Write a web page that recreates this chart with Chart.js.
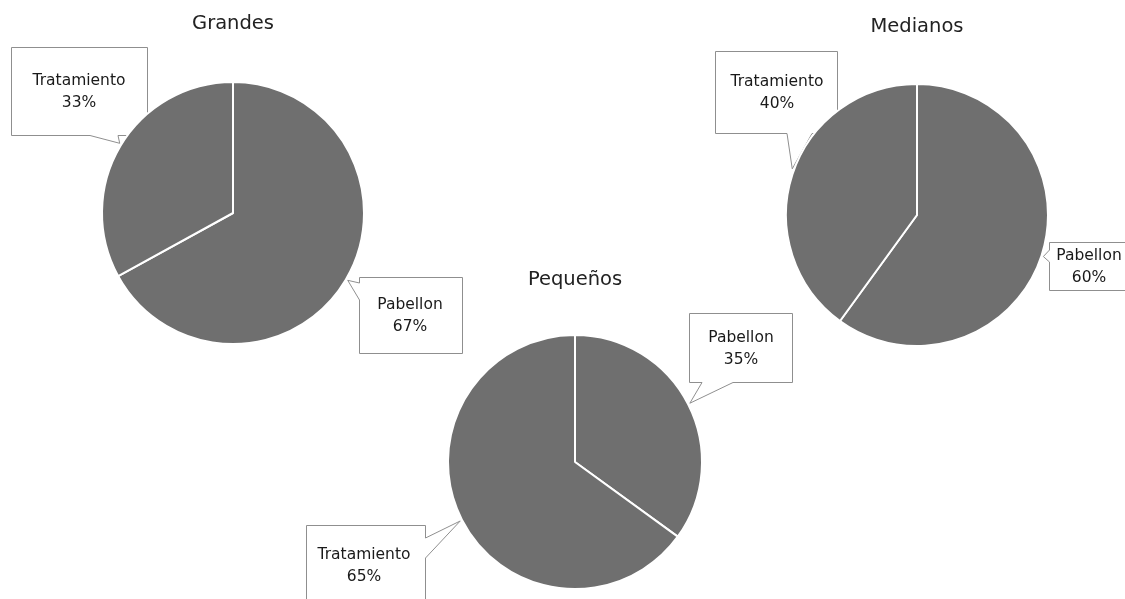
<!DOCTYPE html>
<html>
<head>
<meta charset="utf-8">
<script src="https://cdn.jsdelivr.net/npm/chart.js@4.4.1/dist/chart.umd.min.js"></script>
<style>
  html, body { margin: 0; padding: 0; background: #ffffff; }
  #stage { position: relative; width: 1125px; height: 599px; overflow: hidden; }
  #stage canvas { position: absolute; left: 0; top: 0; }
</style>
</head>
<body>
<div id="stage">
  <canvas id="grandes" width="1125" height="599"></canvas>
  <canvas id="medianos" width="1125" height="599"></canvas>
  <canvas id="pequenos" width="1125" height="599"></canvas>
</div>
<script>
// Categories shared by the three pies
const categories = ['Pabellon', 'Tratamiento'];

// Share of each category (%) per company size
const grandesValues  = [67, 33];
const medianosValues = [60, 40];
const pequenosValues = [35, 65];

// Chart titles
const titles = ['Grandes', 'Medianos', 'Pequeños'];

const FONT = '"DejaVu Sans", "Open Sans", sans-serif';
const SLICE = '#6f6f6f';

// Title above each pie and a callout box (drawn beneath the slices) for every slice
const calloutPlugin = {
  id: 'callouts',
  beforeDatasetsDraw(chart, args, opts) {
    const ctx = chart.ctx;
    const meta = chart.getDatasetMeta(0);
    const arc0 = meta.data[0];
    const cx = arc0.x, cy = arc0.y, r = arc0.outerRadius;

    ctx.save();
    ctx.fillStyle = '#222222';
    ctx.font = '19.5px ' + FONT;
    ctx.textAlign = 'center';
    ctx.textBaseline = 'middle';
    ctx.fillText(opts.title, cx, opts.titleY);

    const values = chart.data.datasets[0].data;
    opts.boxes.forEach((b, i) => {
      const ang = b.tipAngle * Math.PI / 180;
      const tip = [cx + (r + 2) * Math.cos(ang), cy + (r + 2) * Math.sin(ang)];
      const x0 = b.x, y0 = b.y, x1 = b.x + b.w, y1 = b.y + b.h;
      const pts = [[x0, y0], [x1, y0]];
      if (b.side === 'right') pts.push([x1, b.base[0]], tip, [x1, b.base[1]]);
      pts.push([x1, y1]);
      if (b.side === 'bottom') pts.push([b.base[1], y1], tip, [b.base[0], y1]);
      pts.push([x0, y1]);
      if (b.side === 'left') pts.push([x0, b.base[1]], tip, [x0, b.base[0]]);

      ctx.beginPath();
      pts.forEach((p, k) => k ? ctx.lineTo(p[0], p[1]) : ctx.moveTo(p[0], p[1]));
      ctx.closePath();
      ctx.fillStyle = '#ffffff';
      ctx.fill();
      ctx.strokeStyle = '#8f8f8f';
      ctx.lineWidth = 1;
      ctx.stroke();

      ctx.fillStyle = '#1a1a1a';
      ctx.font = '15.5px ' + FONT;
      ctx.fillText(chart.data.labels[i], b.tx, b.ty);
      ctx.fillText(values[i] + '%', b.tx, b.ty + 22);
    });
    ctx.restore();
  }
};

function makePie(id, values, padding, calloutOpts) {
  return new Chart(document.getElementById(id), {
    type: 'pie',
    data: {
      labels: categories,
      datasets: [{
        data: values,
        backgroundColor: [SLICE, SLICE],
        borderColor: '#ffffff',
        borderWidth: 2
      }]
    },
    options: {
      responsive: false,
      animation: false,
      events: [],
      layout: { padding: padding },
      plugins: {
        legend: { display: false },
        tooltip: { enabled: false },
        callouts: calloutOpts
      }
    },
    plugins: [calloutPlugin]
  });
}

makePie('grandes', grandesValues,
  { left: 101, right: 760, top: 81, bottom: 254 },
  {
    title: titles[0], titleY: 24,
    boxes: [
      { x: 359.5, y: 277.5, w: 103, h: 76, side: 'left', base: [283, 300], tipAngle: 30.4, tx: 410, ty: 305 },
      { x: 11.5, y: 47.5, w: 136, h: 88, side: 'bottom', base: [90, 118], tipAngle: -148.4, tx: 79, ty: 81 }
    ]
  });

makePie('medianos', medianosValues,
  { left: 785, right: 76, top: 83, bottom: 252 },
  {
    title: titles[1], titleY: 27,
    boxes: [
      { x: 1049.5, y: 242.5, w: 90, h: 48, side: 'left', base: [250, 262], tipAngle: 18.2, tx: 1089, ty: 256 },
      { x: 715.5, y: 51.5, w: 122, h: 82, side: 'bottom', base: [787, 812], tipAngle: -159.7, tx: 777, ty: 82 }
    ]
  });

makePie('pequenos', pequenosValues,
  { left: 447, right: 422, top: 334, bottom: 9 },
  {
    title: titles[2], titleY: 280,
    boxes: [
      { x: 689.5, y: 313.5, w: 103, h: 69, side: 'bottom', base: [702, 733], tipAngle: -27.1, tx: 741, ty: 338 },
      { x: 306.5, y: 525.5, w: 119, h: 90, side: 'right', base: [538, 558], tipAngle: 152.8, tx: 364, ty: 555 }
    ]
  });
</script>
</body>
</html>
